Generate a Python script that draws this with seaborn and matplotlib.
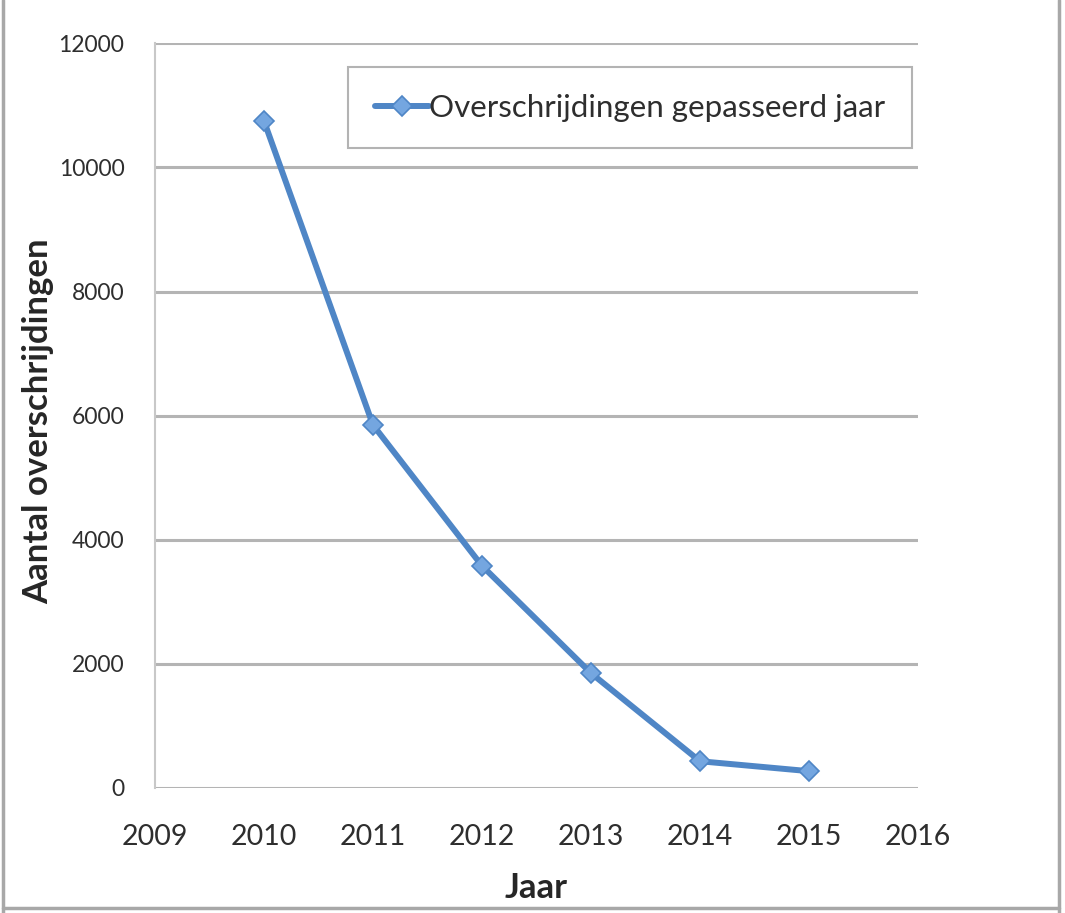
import matplotlib
matplotlib.use("Agg")
import matplotlib.pyplot as plt
import seaborn as sns
import pandas as pd
from matplotlib.lines import Line2D

# Yearly number of exceedances
years = [2010, 2011, 2012, 2013, 2014, 2015]
exceedances = [10750, 5850, 3580, 1850, 430, 270]
series_name = "Overschrijdingen gepasseerd jaar"

x_ticks = [2009, 2010, 2011, 2012, 2013, 2014, 2015, 2016]
y_ticks = [0, 2000, 4000, 6000, 8000, 10000, 12000]

df = pd.DataFrame({"Jaar": years, "Aantal": exceedances, "Reeks": series_name})

sns.set_theme(style="white")
plt.rcParams["font.family"] = ["Lato", "DejaVu Sans"]

line_color = "#4f86c6"
marker_color = "#74a6e0"

fig = plt.figure(figsize=(10.65, 9.13), dpi=100)
ax = fig.add_axes([0.1455, 0.137, 0.7165, 0.8155])

sns.lineplot(
    data=df, x="Jaar", y="Aantal", hue="Reeks", palette=[line_color],
    marker="D", markersize=10, markerfacecolor=marker_color,
    markeredgecolor=line_color, markeredgewidth=1.2,
    linewidth=4.3, ax=ax,
)

ax.set_xlim(2009, 2016)
ax.set_ylim(0, 12000)
ax.set_xticks(x_ticks)
ax.set_yticks(y_ticks)
ax.set_xticklabels([str(t) for t in x_ticks], fontsize=20.5, color="#2e2e2e")
ax.set_yticklabels([str(t) for t in y_ticks], fontsize=16.5, color="#2e2e2e")
ax.tick_params(axis="x", length=0, pad=26)
ax.tick_params(axis="y", length=0, pad=22)

ax.yaxis.grid(True, color="#b4b4b4", linewidth=2.2)
ax.xaxis.grid(False)
for side in ["top", "right", "bottom"]:
    ax.spines[side].set_visible(False)
ax.spines["left"].set_color("#c8c8c8")
ax.spines["left"].set_linewidth(1.5)

ax.set_xlabel("Jaar", fontsize=25, fontweight="bold")
ax.set_ylabel("Aantal overschrijdingen", fontsize=25, fontweight="bold")
ax.xaxis.set_label_coords(0.5, -0.134)
ax.yaxis.set_label_coords(-0.153, 0.492)
ax.xaxis.label.set_va("center")
ax.yaxis.label.set_va("center")

leg = ax.legend(
    loc="upper right", bbox_to_anchor=(0.992, 0.968), fontsize=22.5,
    frameon=True, fancybox=False, handlelength=1.75, handletextpad=0.0,
    borderpad=0.85, borderaxespad=0.0,
)
leg.get_frame().set_edgecolor("#a0a0a0")
leg.get_frame().set_linewidth(1.5)
for t in leg.get_texts():
    t.set_color("#2e2e2e")

# thin frame on the left, right and bottom of the figure
frame_kw = dict(transform=fig.transFigure, color="#a8a8a8", linewidth=2.5)
fig.add_artist(Line2D([0.003, 0.003], [0.0, 1.0], **frame_kw))
fig.add_artist(Line2D([0.994, 0.994], [0.0, 1.0], **frame_kw))
fig.add_artist(Line2D([0.003, 0.994], [0.005, 0.005], **frame_kw))

fig.savefig("out.png", dpi=100)
